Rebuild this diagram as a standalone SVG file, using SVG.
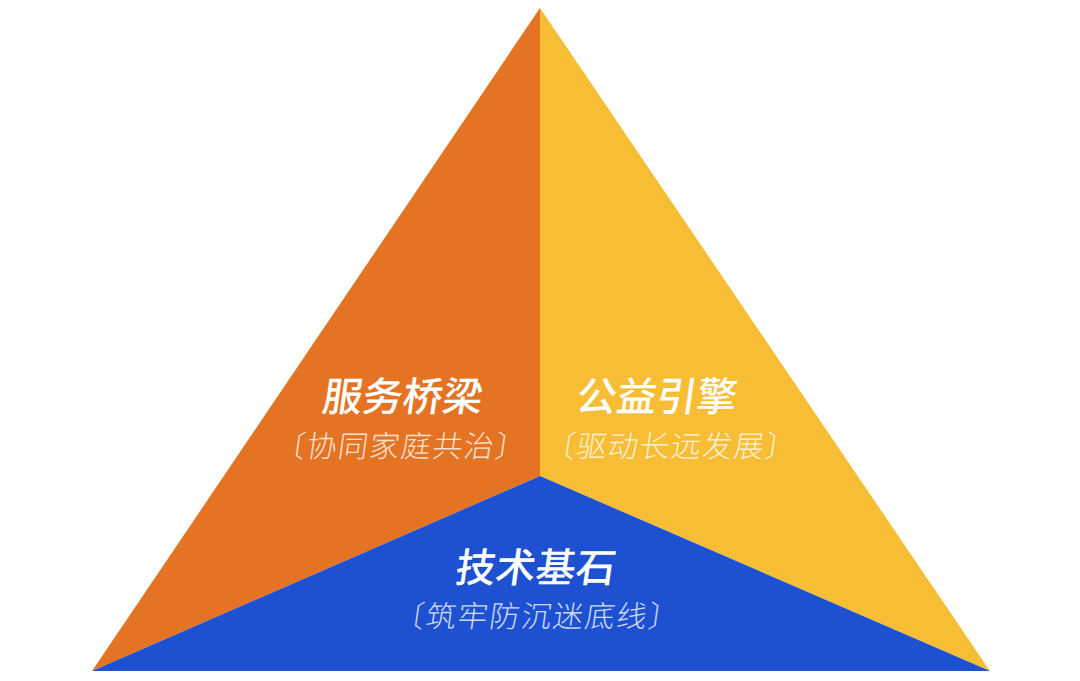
<svg xmlns="http://www.w3.org/2000/svg" width="1080" height="681" viewBox="0 0 1080 681">
<style>
.title{font-family:"Noto Sans CJK SC","Noto Sans",sans-serif;font-size:40px;font-weight:500;fill:#FFFFFF;text-anchor:middle}
.sub{font-family:"Noto Sans CJK SC","Noto Sans",sans-serif;font-size:30px;font-weight:300;fill:#FFFFFF;fill-opacity:0.8;text-anchor:middle}
</style>
<rect width="1080" height="681" fill="#FFFFFF"/>
<g id="node-service">
<polygon points="540,8 540,476 92,671" fill="#E47423"/>
<text class="title" transform="translate(401,411) skewX(-8)">服务桥梁</text>
<text class="sub" transform="translate(399,457) skewX(-8)" textLength="250" lengthAdjust="spacing">〔协同家庭共治〕</text>
</g>
<g id="node-public">
<polygon points="540,8 990,671 540,476" fill="#F6BD35"/>
<text class="title" transform="translate(655,411) skewX(-8)">公益引擎</text>
<text class="sub" transform="translate(669,457) skewX(-8)" textLength="250" lengthAdjust="spacing">〔驱动长远发展〕</text>
</g>
<g id="node-tech">
<polygon points="540,476 990,671 92,671" fill="#1E50D2"/>
<text class="title" transform="translate(534,582) skewX(-8)">技术基石</text>
<text class="sub" transform="translate(535,627) skewX(-8)" textLength="284" lengthAdjust="spacing">〔筑牢防沉迷底线〕</text>
</g>
<g id="connectors"></g>
</svg>
